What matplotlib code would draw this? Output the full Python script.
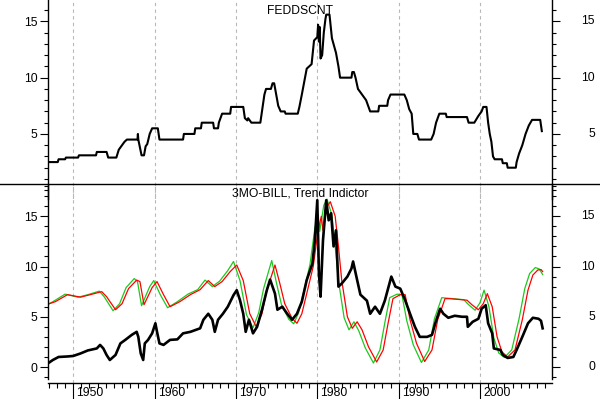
import numpy as np
import matplotlib
matplotlib.use('Agg')
import matplotlib.pyplot as plt
from matplotlib.ticker import MultipleLocator, FixedLocator
from matplotlib.lines import Line2D
import matplotlib.transforms as mtrans

plt.rcParams['font.family'] = ['Liberation Sans', 'DejaVu Sans']

# FEDDSCNT (discount rate)
disc_years = [1947.05, 1948.1, 1948.2, 1949.0, 1949.1, 1950.6, 1950.7, 1952.8, 1952.9, 1954.1,
              1954.3, 1955.3, 1955.6, 1955.9, 1956.3, 1956.6, 1957.9, 1957.95, 1958.0, 1958.2,
              1958.4, 1958.7, 1958.9, 1959.1, 1959.4, 1959.7, 1960.4, 1960.6, 1963.5, 1963.6,
              1964.9, 1965.0, 1965.7, 1965.8, 1967.2, 1967.3, 1967.8, 1967.9, 1968.3, 1969.3,
              1969.4, 1970.9, 1971.1, 1971.4, 1971.5, 1971.9, 1973.0, 1973.2, 1973.5, 1973.7,
              1974.3, 1974.5, 1974.7, 1975.2, 1975.5, 1976.0, 1976.1, 1977.6, 1977.8, 1978.1,
              1978.7, 1979.3, 1979.6, 1980.0, 1980.1, 1980.2, 1980.3, 1980.4, 1980.6, 1980.8,
              1981.0, 1981.1, 1981.5, 1981.8, 1982.3, 1982.6, 1982.8, 1984.2, 1984.3, 1984.5,
              1984.7, 1985.0, 1985.5, 1986.0, 1986.5, 1987.5, 1987.6, 1988.6, 1988.7, 1989.0,
              1990.7, 1991.0, 1991.3, 1991.6, 1991.8, 1992.3, 1992.5, 1994.0, 1994.3, 1994.6,
              1994.8, 1995.0, 1995.8, 1995.9, 1998.4, 1998.6, 1999.3, 1999.8, 2000.2, 2000.4,
              2000.8, 2001.0, 2001.2, 2001.4, 2001.6, 2001.8, 2002.7, 2002.8, 2003.3, 2003.4,
              2004.4, 2004.5, 2004.8, 2005.2, 2005.6, 2006.0, 2006.4, 2007.4, 2007.6]
disc_vals = [2.5, 2.5, 2.75, 2.75, 2.9, 2.9, 3.1, 3.1, 3.4, 3.4,
             2.9, 2.9, 3.6, 3.9, 4.3, 4.5, 4.5, 5.0, 4.5, 3.8,
             3.1, 3.1, 3.9, 4.1, 5.0, 5.5, 5.5, 4.5, 4.5, 5.0,
             5.0, 5.5, 5.5, 6.0, 6.0, 5.5, 5.5, 6.0, 6.8, 6.8,
             7.4, 7.4, 6.4, 6.2, 6.4, 6.0, 6.0, 7.0, 8.5, 9.0,
             9.0, 9.5, 9.5, 7.5, 7.0, 7.0, 6.8, 6.8, 7.4, 8.5,
             10.8, 11.2, 13.3, 13.6, 14.7, 13.2, 14.5, 11.7, 12.0, 14.0,
             15.2, 15.6, 15.6, 13.5, 12.2, 11.0, 10.0, 10.0, 10.5, 10.5,
             10.0, 9.0, 8.5, 8.0, 7.0, 7.0, 7.5, 7.5, 8.0, 8.5,
             8.5, 8.0, 7.2, 6.8, 5.0, 5.0, 4.5, 4.5, 5.0, 6.0,
             6.4, 6.8, 6.8, 6.5, 6.5, 6.0, 6.0, 6.6, 7.0, 7.4,
             7.4, 6.0, 5.0, 4.3, 3.0, 2.75, 2.75, 2.4, 2.4, 2.0,
             2.0, 2.5, 3.25, 4.0, 5.0, 5.75, 6.25, 6.25, 5.25]

# 3MO-BILL
bill_years = [1947.05, 1947.5, 1948.2, 1949.3, 1950.0, 1950.9, 1951.8, 1952.9, 1953.3, 1953.7,
              1954.1, 1954.5, 1955.2, 1955.8, 1956.4, 1957.2, 1957.8, 1958.0, 1958.3, 1958.6,
              1958.8, 1959.2, 1959.7, 1960.1, 1960.3, 1960.6, 1961.1, 1961.9, 1962.8, 1963.5,
              1964.4, 1965.6, 1966.0, 1966.6, 1967.1, 1967.4, 1967.8, 1968.4, 1969.0, 1969.7,
              1970.1, 1970.5, 1970.9, 1971.2, 1971.6, 1972.1, 1972.6, 1973.2, 1973.8, 1974.2,
              1974.8, 1975.1, 1975.7, 1976.3, 1976.9, 1977.5, 1978.1, 1978.7, 1979.4, 1979.7,
              1980.0, 1980.2, 1980.4, 1980.7, 1981.1, 1981.4, 1981.7, 1982.0, 1982.3, 1982.6,
              1983.0, 1983.7, 1984.2, 1984.4, 1984.9, 1985.3, 1986.1, 1986.5, 1987.1, 1987.7,
              1988.3, 1989.1, 1989.6, 1990.2, 1990.8, 1991.4, 1992.0, 1992.6, 1993.5, 1994.1,
              1994.5, 1995.1, 1995.5, 1996.1, 1996.9, 1997.8, 1998.4, 1998.5, 1999.1, 1999.8,
              2000.2, 2000.7, 2001.0, 2001.5, 2001.7, 2002.5, 2002.8, 2003.4, 2004.1, 2004.5,
              2005.2, 2005.9, 2006.5, 2007.2, 2007.5, 2007.7]
bill_vals = [0.45, 0.7, 1.0, 1.05, 1.1, 1.35, 1.65, 1.85, 2.2, 1.85,
             1.2, 0.7, 1.2, 2.35, 2.7, 3.2, 3.5, 3.0, 1.35, 0.7,
             2.35, 2.7, 3.35, 4.35, 3.5, 2.35, 2.2, 2.7, 2.75, 3.35,
             3.5, 3.85, 4.7, 5.3, 4.7, 3.5, 4.7, 5.3, 6.0, 7.15,
             7.65, 6.65, 5.3, 3.5, 4.7, 3.35, 4.0, 5.7, 7.65, 8.7,
             7.3, 5.7, 6.0, 5.3, 4.7, 5.3, 6.5, 8.65, 10.3, 12.6,
             16.6, 9.3, 7.0, 12.6, 16.6, 14.6, 15.3, 12.0, 13.6, 8.0,
             8.3, 9.0, 9.8, 10.5, 8.65, 7.2, 6.6, 5.3, 6.0, 5.3,
             6.6, 9.0, 8.0, 7.8, 6.65, 5.3, 4.0, 3.0, 3.0, 3.2,
             4.35, 5.8, 5.3, 4.9, 5.1, 5.0, 5.0, 4.0, 4.5, 4.8,
             5.8, 6.15, 4.35, 3.35, 1.85, 1.7, 1.2, 0.9, 1.0, 1.7,
             3.0, 4.35, 4.9, 4.8, 4.6, 3.85]

# Trend indicator, red line
red_years = [1947.05, 1947.8, 1949.3, 1950.9, 1952.1, 1953.5, 1954.1, 1955.2, 1956.0, 1956.8,
             1957.8, 1958.2, 1958.7, 1959.7, 1960.3, 1961.1, 1961.9, 1963.1, 1964.4, 1965.6,
             1966.6, 1967.4, 1968.3, 1969.3, 1970.1, 1970.9, 1971.7, 1972.5, 1973.2, 1973.8,
             1974.8, 1975.4, 1976.0, 1976.9, 1977.5, 1978.1, 1978.7, 1979.5, 1980.1, 1980.5,
             1980.7, 1981.2, 1981.6, 1982.2, 1982.6, 1983.0, 1983.7, 1984.3, 1984.9, 1985.5,
             1986.3, 1987.3, 1988.1, 1988.7, 1989.3, 1990.2, 1990.8, 1991.4, 1992.2, 1993.2,
             1994.1, 1994.8, 1995.7, 1996.3, 1998.4, 1999.0, 1999.8, 2000.4, 2000.9, 2001.5,
             2002.1, 2002.7, 2003.4, 2004.3, 2005.2, 2005.9, 2006.5, 2007.1, 2007.5, 2007.7]
red_vals = [6.3, 6.5, 7.2, 6.95, 7.2, 7.5, 7.0, 5.7, 6.3, 7.8,
            8.65, 8.5, 6.2, 7.9, 8.5, 7.2, 6.0, 6.5, 7.2, 7.7,
            8.6, 8.0, 8.5, 9.5, 10.15, 8.6, 5.3, 4.0, 5.3, 7.65,
            10.15, 8.3, 6.3, 4.85, 4.35, 5.3, 7.3, 10.0, 13.6, 15.0,
            13.6, 15.95, 16.45, 15.0, 12.0, 8.65, 5.0, 3.85, 4.5, 3.7,
            2.0, 0.5, 1.7, 4.35, 6.8, 7.2, 7.2, 4.7, 2.35, 0.55,
            1.7, 4.7, 6.8, 6.8, 6.65, 6.2, 5.7, 6.3, 7.3, 6.0,
            3.0, 1.5, 1.0, 1.7, 4.7, 7.65, 9.15, 9.65, 9.7, 9.5]

# Trend indicator, green line
green_years = [1947.05, 1947.5, 1949.0, 1950.6, 1951.8, 1953.2, 1953.8, 1954.9, 1955.7, 1956.5,
               1957.5, 1957.9, 1958.4, 1959.4, 1959.9, 1960.7, 1961.6, 1962.8, 1964.1, 1965.3,
               1966.2, 1967.1, 1968.0, 1969.0, 1969.7, 1970.5, 1971.3, 1972.1, 1972.8, 1973.4,
               1974.4, 1975.0, 1975.6, 1976.5, 1977.1, 1977.7, 1978.3, 1979.1, 1979.7, 1980.1,
               1980.3, 1980.8, 1981.2, 1981.8, 1982.2, 1982.6, 1983.3, 1983.9, 1984.5, 1985.1,
               1985.9, 1986.9, 1987.7, 1988.3, 1988.9, 1989.8, 1990.4, 1991.0, 1991.8, 1992.8,
               1993.7, 1994.4, 1995.3, 1996.0, 1998.0, 1998.6, 1999.4, 2000.0, 2000.5, 2001.1,
               2001.7, 2002.3, 2003.0, 2003.9, 2004.8, 2005.5, 2006.1, 2006.8, 2007.3, 2007.7]
green_vals = [6.3, 6.5, 7.25, 6.95, 7.2, 7.55, 7.0, 5.6, 6.3, 7.9,
              8.8, 8.5, 6.1, 8.0, 8.6, 7.2, 5.9, 6.5, 7.25, 7.7,
              8.65, 8.0, 8.55, 9.6, 10.5, 8.6, 5.2, 3.9, 5.4, 7.8,
              10.6, 8.3, 6.2, 4.75, 4.3, 5.4, 7.4, 10.2, 13.8, 15.2,
              13.5, 16.1, 16.7, 15.1, 12.0, 8.6, 4.9, 3.7, 4.5, 3.6,
              1.9, 0.4, 1.7, 4.4, 6.9, 7.25, 7.2, 4.6, 2.2, 0.45,
              1.7, 4.8, 6.9, 6.85, 6.7, 6.2, 5.65, 6.4, 7.65, 6.0,
              2.9, 1.4, 0.95, 1.7, 4.8, 7.8, 9.3, 9.9, 9.75, 9.2]

decades = [1950, 1960, 1970, 1980, 1990, 2000]
xmin, xmax = 1946.9, 2008.85

fig = plt.figure(figsize=(6, 3.99), dpi=100)
W, H = 600.0, 399.0
ax1 = fig.add_axes([48 / W, 1 - 199 / H, 504 / W, 199 / H])
ax2 = fig.add_axes([48 / W, 1 - 383 / H, 504 / W, 199 / H])

grid_kw = dict(color='#b8b8b8', lw=0.8, linestyle=(0, (3, 3)), zorder=0)
for ax in (ax1, ax2):
    ax.set_facecolor('none')
    ax.set_xlim(xmin, xmax)
    for d in decades:
        ax.axvline(d, **grid_kw)
    ax.spines['top'].set_visible(False)
    for s in ('left', 'right', 'bottom'):
        ax.spines[s].set_linewidth(1.0)
    ax.yaxis.set_minor_locator(MultipleLocator(1))
    ax.tick_params(axis='y', which='both', left=True, right=True, direction='out',
                   labelleft=True, labelright=False, labelsize=8.7, pad=1.5, width=0.8)
    ax.tick_params(axis='y', which='major', length=6)
    ax.tick_params(axis='y', which='minor', length=3)

# top panel
ax1.plot(disc_years, disc_vals, color='black', lw=1.5)
ax1.set_ylim(-0.78, 16.9)
ax1.spines['bottom'].set_visible(False)
ax1.set_xticks([])
ax1.set_yticks([5, 10, 15])
ax1.text(0.5, 0.945, 'FEDDSCNT', transform=ax1.transAxes, ha='center', va='center', fontsize=8.7)

# bottom panel
ax2.plot(green_years, green_vals, color='#1ec81e', lw=0.9)
ax2.plot(red_years, red_vals, color='#ff0000', lw=0.9)
ax2.plot(bill_years, bill_vals, color='black', lw=1.9)
ax2.set_ylim(-1.59, 18.21)
ax2.spines['left'].set_bounds(-1.2, 18.21)
ax2.spines['right'].set_bounds(-1.2, 18.21)
ax2.set_yticks([0, 5, 10, 15])
ax2.text(0.5, 0.95, '3MO-BILL, Trend Indictor', transform=ax2.transAxes, ha='center', va='center', fontsize=8.7)

# x axis: yearly minor ticks, long decade ticks, labels to the right of the tick
ax2.xaxis.set_major_locator(FixedLocator(decades))
ax2.xaxis.set_minor_locator(FixedLocator(range(1947, 2009)))
ax2.tick_params(axis='x', which='major', length=11.5, width=0.8, direction='out', labelbottom=False)
ax2.tick_params(axis='x', which='minor', length=3.6, width=0.8, direction='out')
tr = mtrans.offset_copy(mtrans.blended_transform_factory(ax2.transData, ax2.transAxes),
                        fig=fig, x=2.2, y=0, units='points')
for d in decades:
    ax2.text(d, -0.048, str(d), transform=tr, ha='left', va='center', fontsize=8.7)

# right-hand labels, right aligned near the figure edge
for ax, ticks in ((ax1, [5, 10, 15]), (ax2, [0, 5, 10, 15])):
    trr = mtrans.blended_transform_factory(ax.transAxes, ax.transData)
    for t in ticks:
        ax.text((595 - 48) / 504, t, str(t), transform=trr, ha='right', va='center', fontsize=8.7)

# separator across the full width
fig.add_artist(Line2D([0, 1], [1 - 184 / H, 1 - 184 / H], transform=fig.transFigure,
                      color='black', lw=1.0))

fig.savefig('out.png', dpi=100)
